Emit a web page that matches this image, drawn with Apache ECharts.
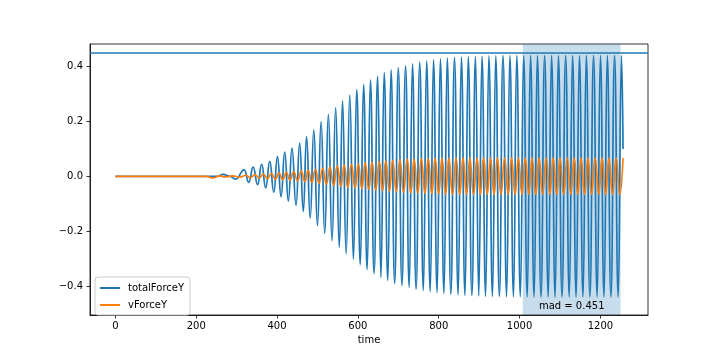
<!DOCTYPE html>
<html>
<head>
<meta charset="utf-8">
<script src="https://cdn.jsdelivr.net/npm/echarts@6/dist/echarts.min.js"></script>
<style>
html,body{margin:0;padding:0;background:#fff;}
#c{width:720px;height:360px;}
</style>
</head>
<body>
<div id="c"></div>
<script>
// x tick values and y tick values
const xTicks = [0, 200, 400, 600, 800, 1000, 1200];
const yTicks = [-0.4, -0.2, 0.0, 0.2, 0.4];

// totalForceY: [time, value] at each read extreme (peaks and troughs)
const totalForceY = [
  [0,0],[250,0],[267,0.007],[282,0.001],[298,-0.010],
  [319,0.024],[330,-0.022],[341,0.034],[352,-0.030],[362,0.044],[372,-0.042],
  [382,0.055],[392,-0.058],[401,0.072],[410,-0.074],[419,0.088],[428,-0.090],
  [437,0.103],[447,-0.106],[456,0.121],[465,-0.128],[473,0.145],[482,-0.152],
  [491,0.170],[500,-0.180],[509,0.200],[518,-0.208],[527,0.226],[536,-0.234],
  [545,0.250],[554,-0.258],[562,0.274],[571,-0.282],[580,0.296],[589,-0.302],
  [597,0.316],[606,-0.322],[614,0.335],[623,-0.340],[631,0.351],[640,-0.354],
  [649,0.365],[657,-0.368],[665,0.378],[674,-0.380],[682,0.388],[691,-0.390],
  [700,0.396],[709,-0.398],[718,0.403],[727,-0.405],[735,0.410],[744,-0.411],
  [753,0.416],[762,-0.416],[770,0.421],[779,-0.420],[787,0.425],[796,-0.424],
  [804,0.428],[813,-0.427],[821,0.431],[830,-0.430],[839,0.433],[848,-0.432],
  [856,0.435],[865,-0.434],[873,0.436],[882,-0.435],[891,0.437],[899,-0.436],
  [907,0.438],[916,-0.437],[924,0.439],[933,-0.438],[941,0.439],[950,-0.438],
  [959,0.440],[968,-0.439],[976,0.440],[985,-0.439],[993,0.440],[1002,-0.439],
  [1010,0.440],[1019,-0.440],[1027,0.440],[1036,-0.440],[1044,0.440],[1053,-0.440],
  [1062,0.440],[1071,-0.440],[1079,0.440],[1088,-0.440],[1096,0.440],[1105,-0.440],
  [1114,0.440],[1123,-0.440],[1131,0.440],[1140,-0.440],[1148,0.440],[1157,-0.440],
  [1165,0.440],[1174,-0.440],[1183,0.440],[1192,-0.440],[1200,0.440],[1209,-0.440],
  [1217,0.440],[1226,-0.440],[1235,0.440],[1244,-0.440],[1252,0.440],[1256,0.100]
];

// vForceY: [time, value] at each read extreme
const vForceY = [
  [0,0],[225,0],[242,-0.006],[258,0.002],[272,-0.002],[290,0.002],[308,-0.003],
  [323,0.004],[334,-0.005],[345,0.006],[356,-0.006],[366,0.008],[376,-0.008],
  [386,0.010],[396,-0.010],[405,0.012],[414,-0.012],[423,0.014],[432,-0.014],
  [441,0.016],[451,-0.016],[460,0.019],[469,-0.019],[477,0.022],[486,-0.022],
  [495,0.025],[504,-0.025],[513,0.029],[522,-0.029],[531,0.034],[540,-0.033],
  [549,0.038],[558,-0.037],[566,0.041],[575,-0.040],[584,0.044],[593,-0.043],
  [601,0.046],[610,-0.045],[618,0.049],[627,-0.048],[635,0.052],[644,-0.050],
  [653,0.054],[661,-0.052],[669,0.056],[678,-0.054],[686,0.058],[695,-0.056],
  [704,0.060],[713,-0.058],[722,0.062],[731,-0.060],[739,0.063],[748,-0.061],
  [757,0.064],[766,-0.062],[774,0.065],[783,-0.063],[791,0.066],[800,-0.064],
  [808,0.066],[817,-0.065],[825,0.067],[834,-0.066],[843,0.067],[852,-0.066],
  [860,0.067],[869,-0.066],[877,0.067],[886,-0.066],[895,0.067],[903,-0.066],
  [911,0.067],[920,-0.066],[928,0.067],[937,-0.066],[945,0.067],[954,-0.066],
  [963,0.067],[972,-0.066],[980,0.067],[989,-0.066],[997,0.067],[1006,-0.066],
  [1014,0.067],[1023,-0.066],[1031,0.067],[1040,-0.066],[1048,0.067],[1057,-0.066],
  [1066,0.067],[1075,-0.066],[1083,0.067],[1092,-0.066],[1100,0.067],[1109,-0.066],
  [1118,0.067],[1127,-0.066],[1135,0.067],[1144,-0.066],[1152,0.067],[1161,-0.066],
  [1169,0.067],[1178,-0.066],[1187,0.067],[1196,-0.066],[1204,0.067],[1213,-0.066],
  [1221,0.067],[1230,-0.066],[1239,0.067],[1248,-0.066],[1256,0.067]
];

const madValue = 0.451;
const spanStart = 1008;
const spanEnd = 1250;
const seriesNames = ['totalForceY', 'vForceY'];

const FONT = 'DejaVu Sans';
const chart = echarts.init(document.getElementById('c'), null, {renderer: 'canvas'});
const fmtY = v => (v < 0 ? '\u2212' : '') + Math.abs(v).toFixed(1);
const fmtX = v => String(Math.round(v));

chart.setOption({
  animation: false,
  backgroundColor: '#fff',
  textStyle: {fontFamily: FONT},
  grid: {left: 90, right: 72, top: 44, bottom: 45, show: true, borderColor: '#000', borderWidth: 0.8, backgroundColor: 'transparent'},
  legend: {
    orient: 'vertical', left: 95, top: 277,
    data: seriesNames,
    itemWidth: 20, itemHeight: 2, icon: 'rect', itemGap: 7,
    padding: [6, 6, 5, 5],
    borderColor: '#ccc', borderWidth: 1, borderRadius: 3,
    backgroundColor: 'rgba(255,255,255,0.8)',
    textStyle: {fontFamily: FONT, fontSize: 10, color: '#000', padding: [0,0,0,3]}
  },
  xAxis: {
    type: 'value', min: -62.75, max: 1317.75,
    name: 'time', nameLocation: 'middle', nameGap: 19,
    nameTextStyle: {fontFamily: FONT, fontSize: 10, color: '#000'},
    axisLine: {onZero: false, lineStyle: {color: '#000', width: 0.8}},
    axisTick: {show: true, length: 3.5, lineStyle: {color: '#000', width: 0.8}, customValues: xTicks},
    axisLabel: {fontFamily: FONT, fontSize: 10, color: '#000', margin: 6, customValues: xTicks, formatter: fmtX},
    splitLine: {show: false}
  },
  yAxis: {
    type: 'value', min: -0.5055, max: 0.4826,
    axisLine: {show: true, onZero: false, lineStyle: {color: '#000', width: 0.8}},
    axisTick: {show: true, length: 3.5, lineStyle: {color: '#000', width: 0.8}, customValues: yTicks},
    axisLabel: {fontFamily: FONT, fontSize: 10, color: '#000', margin: 7, customValues: yTicks, formatter: fmtY},
    splitLine: {show: false}
  },
  series: [
    {
      name: seriesNames[0], type: 'line', data: totalForceY,
      showSymbol: false, smooth: 0.5, smoothMonotone: 'x',
      lineStyle: {color: '#1f77b4', width: 1.7}, itemStyle: {color: '#1f77b4'},
      z: 3,
      markArea: {
        silent: true,
        itemStyle: {color: 'rgba(31,119,180,0.25)'},
        label: {show: true, position: 'insideBottom', formatter: 'mad = ' + madValue, fontFamily: FONT, fontSize: 10, color: '#000', distance: 4},
        data: [[{xAxis: spanStart}, {xAxis: spanEnd}]]
      },
      markLine: {
        silent: true, symbol: ['none', 'none'],
        lineStyle: {color: '#1f77b4', width: 1.5, type: 'solid'},
        label: {show: false},
        data: [{yAxis: madValue}]
      }
    },
    {
      name: seriesNames[1], type: 'line', data: vForceY,
      showSymbol: false, smooth: 0.5, smoothMonotone: 'x',
      lineStyle: {color: '#ff7f0e', width: 1.7}, itemStyle: {color: '#ff7f0e'},
      z: 4
    }
  ]
});
</script>
</body>
</html>
